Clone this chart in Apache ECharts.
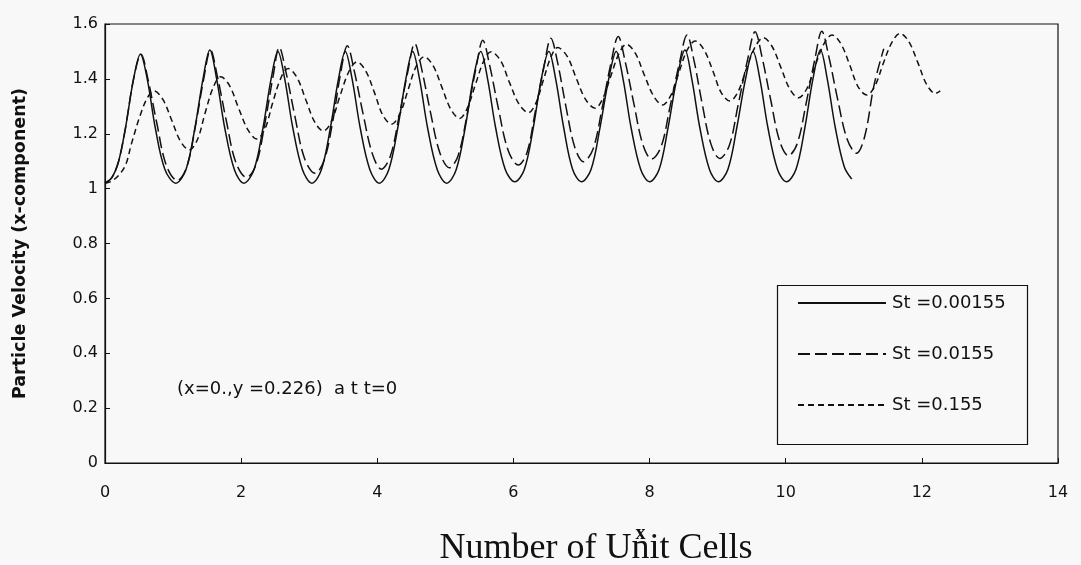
<!DOCTYPE html>
<html>
<head>
<meta charset="utf-8">
<title>Particle Velocity vs Number of Unit Cells</title>
<script src="https://cdn.jsdelivr.net/npm/echarts@6/dist/echarts.min.js"></script>
<style>
  html, body { margin: 0; padding: 0; background: #f8f8f8; }
  #chart { width: 1081px; height: 565px; }
</style>
</head>
<body>
<div id="chart"></div>
<script>
// Axis ticks
const xTicks = [0, 2, 4, 6, 8, 10, 12, 14];
const yTicks = [0, 0.2, 0.4, 0.6, 0.8, 1, 1.2, 1.4, 1.6];

// Series labels (Stokes number)
const seriesNames = ['St =0.00155', 'St =0.0155', 'St =0.155'];

// Particle velocity (x-component) vs number of unit cells, St = 0.00155
const velSt00155 = [
  [0, 1.02], [0.1, 1.04], [0.2, 1.10], [0.3, 1.22], [0.42, 1.40], [0.52, 1.49],
  [0.62, 1.40], [0.74, 1.22], [0.88, 1.07], [1.04, 1.02], [1.19, 1.07], [1.32, 1.22], [1.44, 1.40], [1.54, 1.505],
  [1.64, 1.40], [1.76, 1.22], [1.90, 1.07], [2.04, 1.02], [2.19, 1.07], [2.32, 1.22], [2.44, 1.40], [2.54, 1.50],
  [2.64, 1.40], [2.76, 1.22], [2.90, 1.07], [3.04, 1.02], [3.18, 1.07], [3.31, 1.22], [3.43, 1.40], [3.53, 1.50],
  [3.63, 1.40], [3.75, 1.22], [3.89, 1.07], [4.03, 1.02], [4.17, 1.07], [4.30, 1.22], [4.42, 1.40], [4.52, 1.50],
  [4.62, 1.40], [4.74, 1.22], [4.88, 1.07], [5.02, 1.02], [5.16, 1.07], [5.29, 1.22], [5.41, 1.40], [5.52, 1.50],
  [5.62, 1.40], [5.74, 1.22], [5.88, 1.07], [6.02, 1.025], [6.16, 1.07], [6.29, 1.22], [6.41, 1.40], [6.52, 1.50],
  [6.62, 1.40], [6.74, 1.22], [6.87, 1.07], [7.00, 1.025], [7.14, 1.07], [7.27, 1.22], [7.40, 1.40], [7.51, 1.50],
  [7.61, 1.40], [7.73, 1.22], [7.87, 1.07], [8.00, 1.025], [8.14, 1.07], [8.27, 1.22], [8.40, 1.40], [8.52, 1.505],
  [8.62, 1.40], [8.74, 1.22], [8.88, 1.07], [9.01, 1.025], [9.15, 1.07], [9.28, 1.22], [9.41, 1.40], [9.52, 1.50],
  [9.62, 1.40], [9.74, 1.22], [9.88, 1.07], [10.01, 1.025], [10.15, 1.07], [10.28, 1.22], [10.40, 1.40], [10.51, 1.505],
  [10.61, 1.40], [10.73, 1.22], [10.86, 1.08], [10.97, 1.035]
];

// St = 0.0155
const velSt0155 = [
  [0, 1.02], [0.1, 1.04], [0.2, 1.10], [0.3, 1.22], [0.42, 1.40], [0.53, 1.49],
  [0.63, 1.40], [0.76, 1.24], [0.90, 1.085], [1.06, 1.03], [1.20, 1.078], [1.33, 1.23], [1.45, 1.40], [1.55, 1.505],
  [1.65, 1.41], [1.78, 1.25], [1.92, 1.097], [2.08, 1.041], [2.22, 1.088], [2.35, 1.24], [2.47, 1.411], [2.56, 1.515],
  [2.66, 1.423], [2.79, 1.263], [2.93, 1.111], [3.085, 1.056], [3.22, 1.103], [3.35, 1.251], [3.46, 1.419], [3.56, 1.521],
  [3.66, 1.431], [3.79, 1.274], [3.93, 1.125], [4.06, 1.071], [4.19, 1.117], [4.32, 1.263], [4.45, 1.428], [4.55, 1.529],
  [4.65, 1.438], [4.78, 1.28], [4.92, 1.13], [5.06, 1.076], [5.19, 1.122], [5.32, 1.271], [5.45, 1.439], [5.55, 1.541],
  [5.65, 1.45], [5.78, 1.291], [5.92, 1.141], [6.07, 1.086], [6.20, 1.132], [6.32, 1.28], [6.45, 1.446], [6.55, 1.548],
  [6.65, 1.458], [6.77, 1.301], [6.90, 1.152], [7.03, 1.098], [7.17, 1.144], [7.30, 1.29], [7.43, 1.454], [7.54, 1.554],
  [7.64, 1.465], [7.77, 1.309], [7.90, 1.162], [8.03, 1.108], [8.17, 1.153], [8.30, 1.298], [8.44, 1.46], [8.55, 1.56],
  [8.65, 1.47], [8.77, 1.313], [8.90, 1.164], [9.03, 1.11], [9.17, 1.156], [9.30, 1.304], [9.44, 1.47], [9.55, 1.572],
  [9.65, 1.482], [9.78, 1.323], [9.91, 1.174], [10.04, 1.12], [10.17, 1.165], [10.30, 1.311], [10.43, 1.474], [10.53, 1.574],
  [10.63, 1.485], [10.76, 1.329], [10.90, 1.182], [11.04, 1.129], [11.16, 1.19], [11.30, 1.38], [11.44, 1.51]
];

// St = 0.155
const velSt155 = [
  [0, 1.02], [0.12, 1.03], [0.29, 1.08], [0.39, 1.165], [0.51, 1.262], [0.62, 1.33], [0.72, 1.356],
  [0.85, 1.325], [0.98, 1.249], [1.11, 1.172], [1.24, 1.141], [1.36, 1.18], [1.47, 1.275], [1.59, 1.369], [1.70, 1.408],
  [1.83, 1.375], [1.96, 1.295], [2.10, 1.214], [2.23, 1.181], [2.35, 1.218], [2.46, 1.31], [2.58, 1.401], [2.69, 1.438],
  [2.82, 1.405], [2.95, 1.324], [3.08, 1.243], [3.21, 1.21], [3.33, 1.247], [3.45, 1.336], [3.58, 1.425], [3.70, 1.462],
  [3.83, 1.429], [3.96, 1.349], [4.08, 1.268], [4.21, 1.235], [4.33, 1.271], [4.45, 1.358], [4.57, 1.445], [4.69, 1.481],
  [4.82, 1.448], [4.95, 1.369], [5.08, 1.289], [5.21, 1.256], [5.32, 1.292], [5.44, 1.378], [5.56, 1.463], [5.67, 1.499],
  [5.81, 1.467], [5.94, 1.388], [6.08, 1.309], [6.22, 1.277], [6.33, 1.312], [6.44, 1.396], [6.55, 1.479], [6.65, 1.514],
  [6.79, 1.482], [6.92, 1.404], [7.06, 1.325], [7.20, 1.293], [7.31, 1.327], [7.43, 1.41], [7.55, 1.492], [7.66, 1.526],
  [7.79, 1.494], [7.92, 1.416], [8.06, 1.337], [8.19, 1.305], [8.31, 1.339], [8.43, 1.422], [8.55, 1.504], [8.67, 1.538],
  [8.80, 1.506], [8.93, 1.429], [9.05, 1.351], [9.18, 1.319], [9.30, 1.353], [9.42, 1.435], [9.55, 1.516], [9.67, 1.55],
  [9.80, 1.518], [9.93, 1.441], [10.06, 1.363], [10.19, 1.331], [10.31, 1.364], [10.43, 1.446], [10.56, 1.527], [10.68, 1.56],
  [10.81, 1.528], [10.94, 1.451], [11.06, 1.373], [11.19, 1.341], [11.31, 1.374], [11.43, 1.454], [11.56, 1.533], [11.68, 1.566],
  [11.81, 1.535], [11.94, 1.46], [12.07, 1.38], [12.20, 1.347], [12.27, 1.356]
];

const SANS = 'DejaVu Sans, Liberation Sans, Arial, sans-serif';
const SERIF = 'Liberation Serif, Times New Roman, serif';
const INK = '#111';

// X-axis title; a stray "x" glyph sits on top of the "n" of "Unit"
const xTitle = 'Number of Unit Cells';
const xTitleFont = '36px ' + SERIF;
const xTitleCenter = 596;
const measureCtx = document.createElement('canvas').getContext('2d');
measureCtx.font = xTitleFont;
const xTitleStart = xTitleCenter - measureCtx.measureText(xTitle).width / 2;
const nStart = xTitleStart + measureCtx.measureText('Number of U').width;
const nCenter = nStart + measureCtx.measureText('n').width / 2;

const chart = echarts.init(document.getElementById('chart'), null, { renderer: 'canvas' });

function curve(name, data, dash) {
  return {
    name: name,
    type: 'line',
    data: data,
    symbol: 'none',
    smooth: 0.35,
    silent: true,
    lineStyle: { color: INK, width: 1.5, type: dash },
    itemStyle: { color: INK }
  };
}

chart.setOption({
  backgroundColor: '#f8f8f8',
  animation: false,
  grid: {
    left: 105, right: 23, top: 24, bottom: 102,
    show: true, borderColor: INK, borderWidth: 1.2, backgroundColor: 'transparent',
    outerBoundsMode: 'none'
  },
  xAxis: {
    type: 'value',
    min: xTicks[0], max: xTicks[xTicks.length - 1], interval: xTicks[1] - xTicks[0],
    axisLine: { show: true, lineStyle: { color: INK, width: 1.2 } },
    axisTick: { show: true, inside: true, length: 5, lineStyle: { color: INK } },
    splitLine: { show: false },
    axisLabel: { color: INK, fontFamily: SANS, fontSize: 16, margin: 22 }
  },
  yAxis: {
    type: 'value',
    min: yTicks[0], max: yTicks[yTicks.length - 1], interval: yTicks[1] - yTicks[0],
    axisLine: { show: true, lineStyle: { color: INK, width: 1.2 } },
    axisTick: { show: true, inside: true, length: 5, lineStyle: { color: INK } },
    splitLine: { show: false },
    axisLabel: { color: INK, fontFamily: SANS, fontSize: 16, margin: 7 },
    name: 'Particle Velocity (x-component)',
    nameLocation: 'middle',
    nameRotate: 90,
    nameGap: 76,
    nameTextStyle: { color: INK, fontFamily: SANS, fontSize: 17.5, fontWeight: 'bold' }
  },
  legend: {
    orient: 'vertical',
    left: 792,
    top: 288,
    itemWidth: 88,
    itemHeight: 14,
    itemGap: 31,
    data: seriesNames,
    itemStyle: { opacity: 0 },
    textStyle: { color: INK, fontFamily: SANS, fontSize: 18, lineHeight: 20, padding: [0, 0, 0, 1] },
    selectedMode: false
  },
  graphic: [
    {
      type: 'rect', left: 775, top: 283, silent: true,
      shape: { width: 250, height: 159 },
      style: { fill: 'none', stroke: INK, lineWidth: 1.2 }
    },
    {
      type: 'text', left: 177, top: 380, silent: true,
      style: { text: '(x=0.,y =0.226)  a t t=0', fill: INK, font: '18px ' + SANS }
    },
    {
      type: 'text', x: xTitleCenter, y: 549, silent: true,
      style: { text: xTitle, fill: INK, font: xTitleFont, align: 'center', verticalAlign: 'middle' }
    },
    {
      type: 'text', x: nCenter, y: 534, silent: true,
      style: { text: 'x', fill: INK, font: 'bold 20px ' + SERIF, align: 'center', verticalAlign: 'middle' }
    }
  ],
  series: [
    curve(seriesNames[0], velSt00155, 'solid'),
    curve(seriesNames[1], velSt0155, [12, 5]),
    curve(seriesNames[2], velSt155, [6, 4])
  ]
});
</script>
</body>
</html>
